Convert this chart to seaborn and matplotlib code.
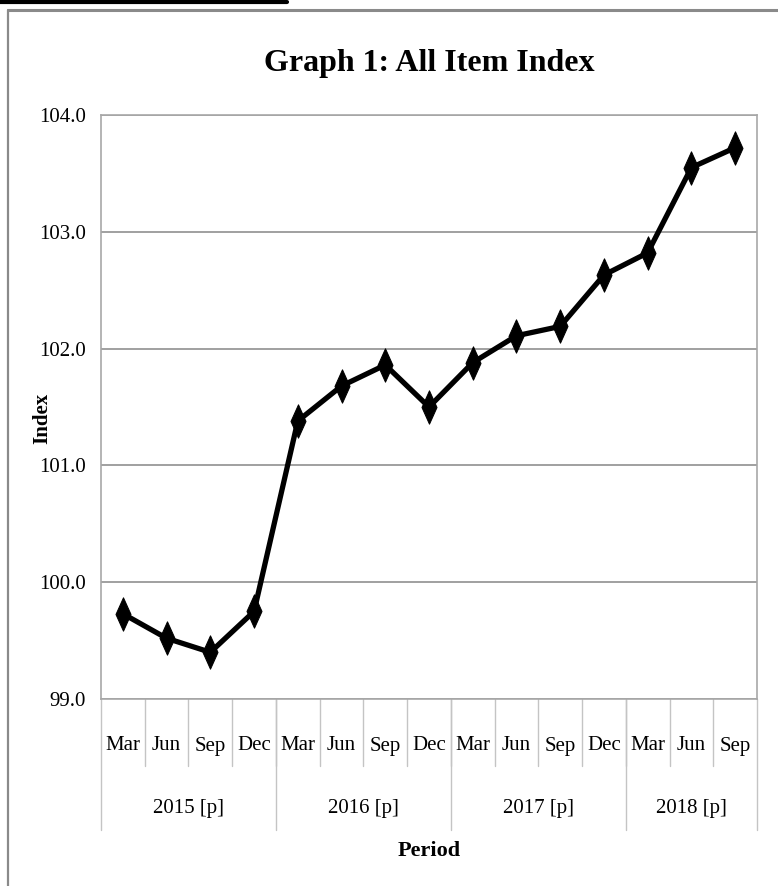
import matplotlib
matplotlib.use("Agg")
import matplotlib.pyplot as plt
import matplotlib.transforms as mtransforms
from matplotlib.lines import Line2D
from matplotlib.path import Path
import seaborn as sns
import pandas as pd

months = ["Mar", "Jun", "Sep", "Dec", "Mar", "Jun", "Sep", "Dec",
          "Mar", "Jun", "Sep", "Dec", "Mar", "Jun", "Sep"]
years = ["2015 [p]", "2016 [p]", "2017 [p]", "2018 [p]"]
year_counts = [4, 4, 4, 3]
index_values = [99.73, 99.52, 99.40, 99.75, 101.38, 101.68, 101.86, 101.50,
                101.88, 102.11, 102.19, 102.63, 102.82, 103.55, 103.72]
y_ticks = [99.0, 100.0, 101.0, 102.0, 103.0, 104.0]

df = pd.DataFrame({"pos": list(range(len(months))), "Index": index_values})

sns.set_theme(style="white")
plt.rcParams["font.family"] = ["Liberation Serif", "DejaVu Serif"]
plt.rcParams["text.color"] = "black"

W, H = 778, 886
fig = plt.figure(figsize=(W / 100, H / 100), dpi=100)
fig.patch.set_facecolor("white")

left, right, top, bottom = 101, 757, 115, 699
ax = fig.add_axes([left / W, 1 - bottom / H, (right - left) / W, (bottom - top) / H])

diamond = Path([(0, 1), (0.45, 0), (0, -1), (-0.45, 0), (0, 1)],
               [Path.MOVETO, Path.LINETO, Path.LINETO, Path.LINETO, Path.CLOSEPOLY])

sns.lineplot(data=df, x="pos", y="Index", ax=ax, color="black", linewidth=3.8,
             marker=diamond, markersize=24, markeredgecolor="black",
             markerfacecolor="black", sort=False, zorder=5)

ax.set_xlim(-0.5, len(months) - 0.5)
ax.set_ylim(y_ticks[0], y_ticks[-1])
ax.set_yticks(y_ticks)
ax.set_yticklabels([f"{v:.1f}" for v in y_ticks], fontsize=15, color="black")
ax.tick_params(axis="y", length=0, pad=11)
ax.set_xticks([])
ax.set_xlabel("")
ax.set_ylabel("")
ax.grid(axis="y", color="#a0a0a0", linewidth=1.4)
ax.set_axisbelow(True)
for name, sp in ax.spines.items():
    sp.set_color("#a8a8a8")
    sp.set_linewidth(1.2)

# multi-level category axis
trans = mtransforms.blended_transform_factory(ax.transData, fig.transFigure)
def fy(py):
    return 1 - py / H

for i, m in enumerate(months):
    ax.text(i, fy(746), m, transform=trans, ha="center", va="center",
            fontsize=15, color="black")

# month separators
for i in range(1, len(months)):
    ax.add_line(Line2D([i - 0.5, i - 0.5], [fy(bottom), fy(766)], transform=trans,
                       color="#c4c4c4", linewidth=1.0, clip_on=False))

# year separators and labels
start = 0
bounds = [-0.5]
for y_lab, c in zip(years, year_counts):
    center = start + (c - 1) / 2
    ax.text(center, fy(808), y_lab, transform=trans, ha="center", va="center",
            fontsize=15, color="black")
    start += c
    bounds.append(start - 0.5)
for b in bounds:
    ax.add_line(Line2D([b, b], [fy(bottom), fy(830)], transform=trans,
                       color="#c4c4c4", linewidth=1.0, clip_on=False))

fig.text((left + right) / 2 / W, fy(851), "Period", ha="center", va="center",
         fontsize=16, fontweight="bold", color="black")
fig.text((left + right) / 2 / W, fy(64), "Graph 1: All Item Index", ha="center",
         va="center", fontsize=23, fontweight="bold", color="black")
fig.text(42 / W, fy(418), "Index", ha="center", va="center", rotation=90,
         fontsize=15, fontweight="bold", color="black")

# outer frame lines
fig.add_artist(Line2D([0, 287 / W], [fy(1.5), fy(1.5)], transform=fig.transFigure,
                      color="black", linewidth=3))
fig.add_artist(Line2D([8 / W, 1], [fy(10), fy(10)], transform=fig.transFigure,
                      color="#8a8a8a", linewidth=2.2))
fig.add_artist(Line2D([8 / W, 8 / W], [fy(10), 0], transform=fig.transFigure,
                      color="#8a8a8a", linewidth=1.6))

fig.savefig("out.png", dpi=100)
